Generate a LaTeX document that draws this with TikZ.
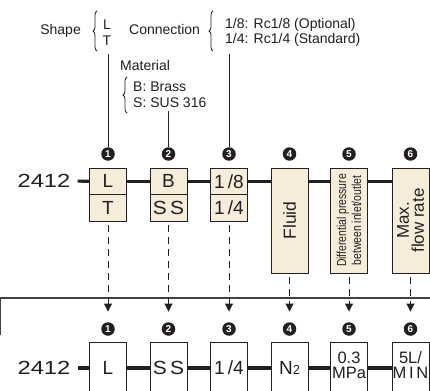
\documentclass[tikz,border=0pt]{standalone}
\usepackage{fontspec}
\setmainfont{Liberation Sans}
\usetikzlibrary{arrows.meta,decorations.pathreplacing,calc}
\definecolor{boxfill}{HTML}{F5ECD9}
\definecolor{ink}{HTML}{231F20}
\begin{document}
\begin{tikzpicture}[x=1pt,y=-1pt,
  every node/.style={text=ink, inner sep=0pt},
  lbl/.style={font=\fontsize{19}{19}\selectfont},
  topbox/.style={draw=ink, fill=boxfill, line width=0.9pt, minimum width=37pt, minimum height=26.5pt, font=\fontsize{19}{19}\selectfont},
  tallbox/.style={topbox, minimum height=105pt},
  botbox/.style={draw=ink, line width=1pt, minimum width=37pt, minimum height=52pt, font=\fontsize{19}{19}\selectfont},
  num/.style={circle, fill=ink, text=white, minimum size=13.5pt, font=\fontsize{10}{10}\selectfont\bfseries},
  link/.style={draw=ink, line width=3.2pt},
  droplink/.style={draw=ink, line width=0.9pt, dash pattern=on 7pt off 5pt, -{Triangle[length=8pt,width=8pt]}, shorten <=4pt, shorten >=10.5pt},
  annline/.style={draw=ink, line width=0.8pt},
  ann/.style={font=\fontsize{14}{14}\selectfont},
  bracestyle/.style={draw=ink, line width=0.8pt, decorate, decoration={brace, amplitude=4pt}}]
\clip (0,0) rectangle (430,390);
\fill[white] (0,0) rectangle (430,390);

% ---------- annotations ----------
\node[ann, anchor=base east] (shape) at (81,35) {Shape};
\draw[bracestyle] (97,51) -- (97,11);
\node[ann, anchor=base] (shL) at (107,30) {L};
\node[ann, anchor=base] (shT) at (107,46) {T};
\node[ann, anchor=base west] (conn) at (129,35) {Connection};
\draw[bracestyle] (213,51) -- (213,11);
\node[ann, anchor=base west] (c18) at (225,29) {1/8: Rc1/8 (Optional)};
\node[ann, anchor=base west] (c14) at (225,44) {1/4: Rc1/4 (Standard)};
\node[ann, anchor=base west] (mat) at (120,71) {Material};
\draw[bracestyle] (127,113) -- (127,77);
\node[ann, anchor=base west] (mB) at (133,92) {B: Brass};
\node[ann, anchor=base west] (mS) at (133,108) {S: SUS 316};

% ---------- top row ----------
\node[lbl] (top2412) at (44,181) {\scalebox{1.25}[1]{2412}};
\node[topbox] (t1a) at (108,181.25) {L};
\node[topbox] (t1b) at (108,207.75) {T};
\node[topbox] (t2a) at (168.5,181.25) {B};
\node[topbox] (t2b) at (168.5,207.75) {\scalebox{1.1}[1]{S\,S}};
\node[topbox] (t3a) at (229,181.25) {1\,/8};
\node[topbox] (t3b) at (229,207.75) {1\,/4};
\node[tallbox] (t4) at (289.5,220.5) {};
\node[rotate=90, font=\fontsize{17.5}{17.5}\selectfont] (t4txt) at (t4) {Fluid};
\node[tallbox] (t5) at (349,220.5) {};
\node[rotate=90, align=center, font=\fontsize{13}{15}\selectfont] (t5txt) at (t5) {\scalebox{0.8}[1]{Differential pressure}\\\scalebox{0.8}[1]{between inlet/outlet}};
\node[tallbox] (t6) at (410.5,220.5) {};
\node[rotate=90, align=center, font=\fontsize{17}{15}\selectfont] (t6txt) at (t6) {Max.\\flow rate};

\draw[link, shorten <=7pt] (top2412.east) -- (t1a.west);
\draw[link] (t1a.east) -- (t2a.west);
\draw[link] (t2a.east) -- (t3a.west);
\draw[link] (t3a.east) -- (t3a.east -| t4.west);
\draw[link] (t3a.east -| t4.east) -- (t3a.east -| t5.west);
\draw[link] (t3a.east -| t5.east) -- (t3a.east -| t6.west);

\node[num] (n1) at (108,154) {1};
\node[num] (n2) at (168.5,154) {2};
\node[num] (n3) at (229,154) {3};
\node[num] (n4) at (289.5,154) {4};
\node[num] (n5) at (349,154) {5};
\node[num] (n6) at (410.5,154) {6};

\draw[annline] (n1.north |- 0,54) -- (n1.north);
\draw[annline] (n2.north |- mS.south) ++(0,3) -- (n2.north);
\draw[annline] (n3.north |- 0,54) -- (n3.north);

% ---------- separator ----------
\draw[draw=ink!85, line width=1.4pt] (0.7,335) -- (0.7,298) -- (430,298);

% ---------- bottom row ----------
\node[num] (b1) at (108,329) {1};
\node[num] (b2) at (168.5,329) {2};
\node[num] (b3) at (229,329) {3};
\node[num] (b4) at (289.5,329) {4};
\node[num] (b5) at (349,329) {5};
\node[num] (b6) at (410.5,329) {6};

\draw[droplink] (t1b.south) -- (b1.north);
\draw[droplink] (t2b.south) -- (b2.north);
\draw[droplink] (t3b.south) -- (b3.north);
\draw[droplink] (t4.south) -- (b4.north);
\draw[droplink] (t5.south) -- (b5.north);
\draw[droplink] (t6.south) -- (b6.north);

\node[lbl] (bot2412) at (44,368) {\scalebox{1.25}[1]{2412}};
\node[botbox] (u1) at (108,368) {L};
\node[botbox] (u2) at (168.5,368) {\scalebox{1.1}[1]{S\,S}};
\node[botbox] (u3) at (229,368) {1\,/4};
\node[botbox] (u4) at (289.5,368) {N\raisebox{-0.5pt}{\fontsize{13}{13}\selectfont 2}};
\node[botbox] (u5) at (349,368) {};
\node[botbox] (u6) at (410.5,368) {};
\node[anchor=base, font=\fontsize{16.5}{16.5}\selectfont] (u5a) at (349,363) {0.3};
\node[anchor=base, font=\fontsize{16.5}{16.5}\selectfont] (u5b) at (349,378) {MPa};
\node[anchor=base, font=\fontsize{16.5}{16.5}\selectfont] (u6a) at (410.5,363) {5L/};
\node[anchor=base, font=\fontsize{16.5}{16.5}\selectfont] (u6b) at (410.5,378) {M\,I\,N};

\draw[link, shorten <=7pt] (bot2412.east) -- (u1.west);
\draw[link] (u1.east) -- (u2.west);
\draw[link] (u2.east) -- (u3.west);
\draw[link] (u3.east) -- (u4.west);
\draw[link] (u4.east) -- (u5.west);
\draw[link] (u5.east) -- (u6.west);
\end{tikzpicture}
\end{document}
